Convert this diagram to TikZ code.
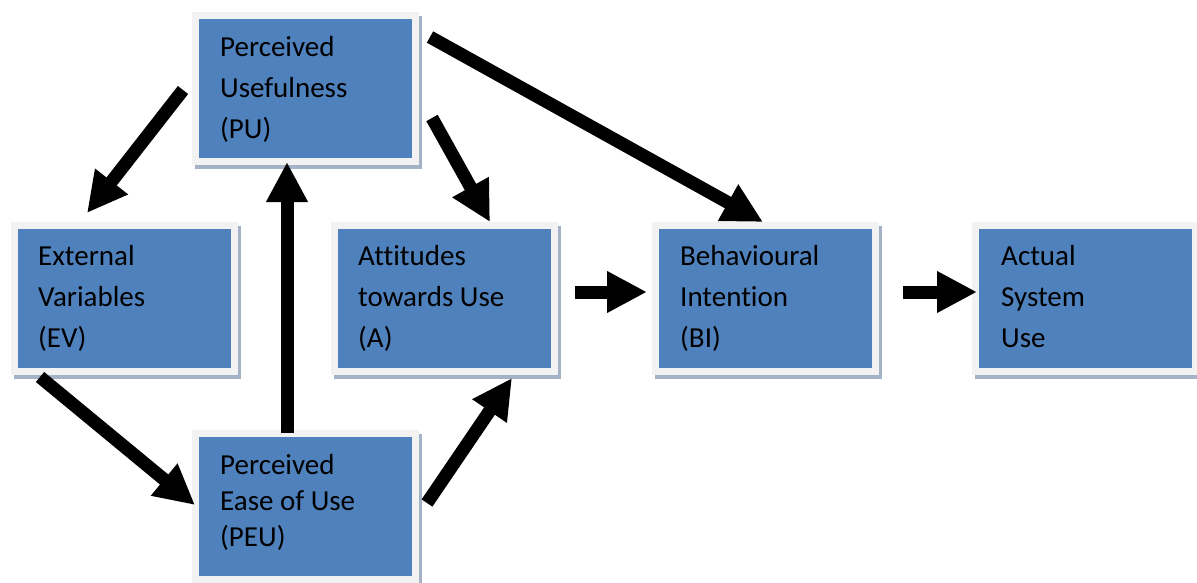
\documentclass[tikz,border=0pt]{standalone}
\usepackage{fontspec}
\setmainfont{Carlito}[Ligatures=NoCommon]
\usetikzlibrary{arrows.meta}

\definecolor{boxblue}{HTML}{4F81BD}
\definecolor{boxframe}{HTML}{F2F2F2}
\definecolor{boxshadow}{HTML}{A3B2C6}

\begin{document}
\begin{tikzpicture}[
    x=1pt, y=-1pt,
    tambox/.style={rectangle, inner sep=0pt, minimum width=220pt, minimum height=146pt,
        fill=boxblue, draw=boxframe, line width=7pt,
        preaction={fill=boxshadow, draw=boxshadow, line width=7pt,
            transform canvas={shift={(3pt,-4pt)}}}},
    txt/.style={inner sep=0pt, anchor=base west, font=\fontsize{29}{41}\selectfont},
    blockarrow/.style={-{Triangle[width=39pt,length=40pt]}, line width=13pt, black}
]
\useasboundingbox (0,0) rectangle (1197,583);

% Nodes
\node[tambox] (pu)  at (305.5,88.5) {};
\node[tambox] (ev)  at (124,298) {};
\node[tambox] (a)   at (444.5,298) {};
\node[tambox] (bi)  at (765.5,298) {};
\node[tambox] (asu) at (1085.5,298) {};
\node[tambox] (peu) at (305.5,506.5) {};

% Texts
\node[txt] (pu-t)  at (220,57)  {\parbox[t]{190pt}{Perceived\\Usefulness\\(PU)}};
\node[txt] (ev-t)  at (38,265)  {\parbox[t]{190pt}{External\\Variables\\(EV)}};
\node[txt] (a-t)   at (358,265) {\parbox[t]{190pt}{Attitudes\\towards Use\\(A)}};
\node[txt] (bi-t)  at (680,265) {\parbox[t]{190pt}{Behavioural\\Intention\\(BI)}};
\node[txt] (asu-t) at (1001,265) {\parbox[t]{190pt}{Actual\\System\\Use}};
\node[txt, font=\fontsize{29}{36}\selectfont] (peu-t) at (220,474)
    {\parbox[t]{190pt}{Perceived\\Ease of Use\\(PEU)}};

% Arrow ends
\coordinate (pu-ev-s)  at (183,90);
\coordinate (pu-ev-e)  at (87,213);
\coordinate (pu-a-s)   at (432,118);
\coordinate (pu-a-e)   at (490,222);
\coordinate (pu-bi-s)  at (430,37);
\coordinate (pu-bi-e)  at (763,222);
\coordinate (ev-peu-s) at (40,377);
\coordinate (ev-peu-e) at (195,505);
\coordinate (peu-a-s)  at (427,503);
\coordinate (peu-a-e)  at (512,378);
\coordinate (peu-pu-s) at (287,433);
\coordinate (peu-pu-e) at (287,162);
\coordinate (a-bi-s)   at (575,292);
\coordinate (a-bi-e)   at (647,292);
\coordinate (bi-asu-s) at (903,292);
\coordinate (bi-asu-e) at (977,292);

% Edges
\draw[blockarrow] (pu-ev-s) -- (pu-ev-e);
\draw[blockarrow] (pu-a-s) -- (pu-a-e);
\draw[blockarrow] (pu-bi-s) -- (pu-bi-e);
\draw[blockarrow] (ev-peu-s) -- (ev-peu-e);
\draw[blockarrow] (peu-a-s) -- (peu-a-e);
\draw[blockarrow] (peu-pu-s) -- (peu-pu-e);
\draw[blockarrow] (a-bi-s) -- (a-bi-e);
\draw[blockarrow] (bi-asu-s) -- (bi-asu-e);

\end{tikzpicture}
\end{document}
